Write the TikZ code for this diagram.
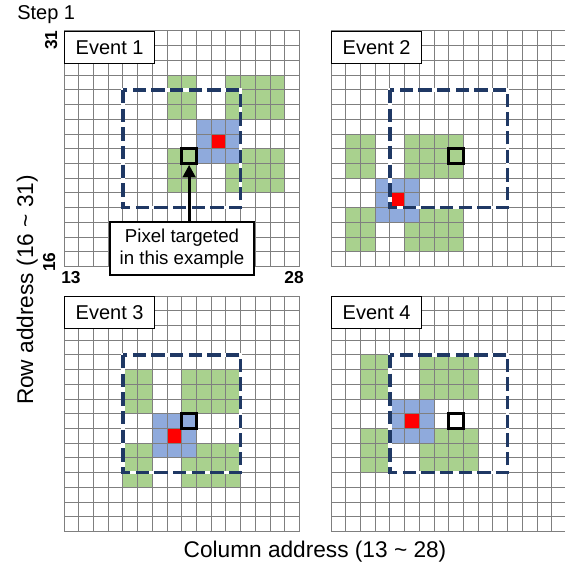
\documentclass[tikz,border=0pt]{standalone}
\usepackage{fontspec}
\setmainfont{Liberation Sans}
\usetikzlibrary{arrows.meta}
\definecolor{cellgreen}{HTML}{A9D18E}
\definecolor{cellblue}{HTML}{8FAADC}
\definecolor{cellred}{HTML}{FF0000}
\definecolor{navyline}{HTML}{1F3864}
\definecolor{gridgray}{HTML}{7F7F7F}
\tikzset{
  gridline/.style={draw=gridgray, line width=0.75pt},
  dashbase/.style={draw=white, line width=2.6pt},
  dashrect/.style={draw=navyline, line width=2.6pt, dash pattern=on 10pt off 4pt},
  targetbox/.style={draw=black, line width=2pt, minimum size=11.04pt, inner sep=0pt},
  evlabel/.style={draw=black, fill=white, line width=0.9pt, minimum width=67.5pt, minimum height=24pt, inner sep=0pt, font=\fontsize{15}{18}\selectfont},
  callout/.style={draw=black, fill=white, line width=1.1pt, minimum width=108pt, minimum height=39.75pt, inner sep=0pt, align=center, font=\fontsize{14}{16.5}\selectfont},
  pointer/.style={draw=black, line width=2.3pt, -{Triangle[length=9.5pt, width=9.5pt]}},
  axislabel/.style={font=\fontsize{17}{20}\selectfont, inner sep=0pt},
  numlabel/.style={font=\fontsize{13}{15}\selectfont\bfseries, inner sep=0pt},
}
\newcommand{\evgrid}[6]{%
\begin{scope}[xshift=#1*0.75pt, yshift=-#2*0.75pt, x=11.04pt, y=-11.04pt]
  \fill[cellgreen] (#3-3,#4-4) rectangle (#3-1,#4-1);
  \fill[cellgreen] (#3+1,#4-4) rectangle (#3+5,#4-1);
  \fill[cellgreen] (#3-3,#4+1) rectangle (#3-1,#4+4);
  \fill[cellgreen] (#3+1,#4+1) rectangle (#3+5,#4+4);
  \fill[cellblue] (#3-1,#4-1) rectangle (#3+2,#4+2);
  \fill[cellred] (#3,#4) rectangle (#3+1,#4+1);
  \foreach \i in {0,...,16} {
    \draw[gridline] (\i,0) -- (\i,16);
    \draw[gridline] (0,\i) -- (16,\i);
  }
  \draw[dashbase] (4,4) rectangle (12,12);
  \draw[dashrect] (4,4) rectangle (12,12);
  \node[targetbox] (t#6) at (8.5,8.5) {};
  \node[evlabel, anchor=north west] (e#6) at (0,0) {#5};
\end{scope}}
\begin{document}
\begin{tikzpicture}[x=0.75pt, y=-0.75pt]
  \useasboundingbox[fill=white] (0,0) rectangle (564,567);
  \evgrid{64}{31}{10}{7}{Event 1}{1}
  \evgrid{331}{31}{4}{11}{Event 2}{2}
  \evgrid{64}{296}{7}{9}{Event 3}{3}
  \evgrid{331}{296}{5}{8}{Event 4}{4}
  \node[callout] (callout) at (182,248.5) {Pixel targeted\\in this example};
  \draw[pointer] (callout.north -| t1.south) -- (t1.south);
  \node[font=\fontsize{15}{18}\selectfont, inner sep=0pt, anchor=base west] (step) at (17,20) {Step 1};
  \node[numlabel, rotate=90, anchor=base] (n31) at (57,40) {31};
  \node[numlabel, rotate=90, anchor=base] (n16) at (55,262) {16};
  \node[numlabel, anchor=base] (n13) at (71,283) {13};
  \node[numlabel, anchor=base] (n28) at (294,283) {28};
  \node[axislabel, rotate=90, anchor=base] (rowlab) at (33,290) {Row address (16 \textasciitilde{} 31)};
  \node[axislabel, anchor=base] (collab) at (315,557) {Column address (13 \textasciitilde{} 28)};
\end{tikzpicture}
\end{document}
